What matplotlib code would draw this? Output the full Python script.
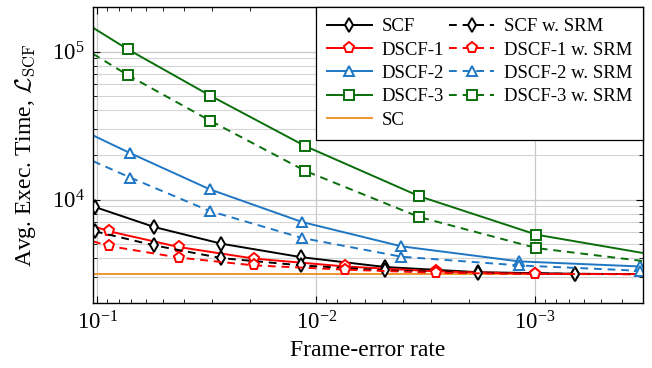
import matplotlib
matplotlib.use("Agg")
import matplotlib.pyplot as plt
from matplotlib.ticker import LogLocator, NullFormatter, FixedLocator

plt.rcParams['font.family'] = ['Liberation Serif', 'DejaVu Serif']
plt.rcParams['mathtext.fontset'] = 'cm'

# frame-error rate limits (axis reversed)
x_lim = (0.1047, 3.2e-4)
y_lim = (2.0e3, 2.0e5)

# SCF / SCF w. SRM
fer_scf = [0.1027, 0.0549, 0.0271, 0.0117, 0.00483, 0.00182, 0.000658, 3.2e-4]
scf = [8910, 6520, 5030, 4080, 3500, 3230, 3150, 3135]
scf_srm = [6100, 4900, 4020, 3590, 3320, 3190, 3145, 3130]

# DSCF-1
fer_d1 = [0.1047, 0.0883, 0.0422, 0.0192, 0.00736, 0.00283, 0.001, 3.2e-4]
dscf1 = [6620, 6100, 4770, 3990, 3530, 3270, 3150, 3135]
dscf1_srm = [5220, 4850, 4050, 3590, 3360, 3200, 3140, 3130]

# DSCF-2
fer_d2 = [0.1047, 0.0708, 0.0307, 0.0116, 0.00408, 0.00118, 0.00033]
dscf2 = [27140, 20590, 11740, 7050, 4830, 3820, 3530]
dscf2_srm = [18180, 14090, 8370, 5500, 4110, 3590, 3300]

# DSCF-3
fer_d3 = [0.1047, 0.0728, 0.0305, 0.01122, 0.00338, 0.000985, 3.2e-4]
dscf3 = [144800, 103800, 50360, 22970, 10530, 5790, 4350]
dscf3_srm = [96470, 69530, 34090, 15620, 7620, 4700, 3840]

# SC reference
sc_value = 3125

green = '#0a6e0a'
blue = '#1f77c4'
orange = '#f0952e'
dash = (0, (4, 3))

fig = plt.figure(figsize=(6.52, 3.68), dpi=100)
ax = fig.add_axes([93 / 652, 1 - 303 / 368, 550.3 / 652, 296 / 368])

mk = dict(markerfacecolor='white', markeredgewidth=1.4, linewidth=1.4)

h_scf, = ax.plot(fer_scf, scf, color='black', marker='d', markersize=7,
                 markevery=list(range(7)), label='SCF', **mk)
h_d1, = ax.plot(fer_d1, dscf1, color='red', marker='p', markersize=8,
                markevery=list(range(1, 7)), label='DSCF-1', **mk)
h_d2, = ax.plot(fer_d2, dscf2, color=blue, marker='^', markersize=7,
                markevery=list(range(1, 7)), label='DSCF-2', **mk)
h_d3, = ax.plot(fer_d3, dscf3, color=green, marker='s', markersize=7.5,
                markevery=list(range(1, 6)), label='DSCF-3', **mk)
h_sc = ax.axhline(sc_value, color=orange, linewidth=1.4, label='SC', zorder=1.5)

h_scf_s, = ax.plot(fer_scf, scf_srm, color='black', marker='d', markersize=7,
                   markevery=list(range(7)), linestyle=dash, label='SCF w. SRM', **mk)
h_d1_s, = ax.plot(fer_d1, dscf1_srm, color='red', marker='p', markersize=8,
                  markevery=list(range(1, 7)), linestyle=dash, label='DSCF-1 w. SRM', **mk)
h_d2_s, = ax.plot(fer_d2, dscf2_srm, color=blue, marker='^', markersize=7,
                  markevery=list(range(1, 7)), linestyle=dash, label='DSCF-2 w. SRM', **mk)
h_d3_s, = ax.plot(fer_d3, dscf3_srm, color=green, marker='s', markersize=7.5,
                  markevery=list(range(1, 6)), linestyle=dash, label='DSCF-3 w. SRM', **mk)

ax.set_xscale('log')
ax.set_yscale('log')
ax.set_xlim(*x_lim)
ax.set_ylim(*y_lim)

ax.xaxis.set_major_locator(FixedLocator([1e-1, 1e-2, 1e-3]))
ax.xaxis.set_minor_locator(LogLocator(base=10, subs=range(2, 10), numticks=20))
ax.xaxis.set_minor_formatter(NullFormatter())
ax.yaxis.set_major_locator(FixedLocator([1e3, 1e4, 1e5]))
ax.yaxis.set_minor_locator(LogLocator(base=10, subs=range(2, 10), numticks=20))
ax.yaxis.set_minor_formatter(NullFormatter())

ax.grid(True, which='major', axis='both', color='#c8c8c8', linewidth=0.9)
ax.grid(True, which='minor', axis='y', color='#d4d4d4', linewidth=0.8)
ax.set_axisbelow(True)

ax.tick_params(which='both', direction='in', top=True, right=True, labelsize=16.5)
ax.tick_params(which='major', length=5, pad=6)
ax.tick_params(which='minor', length=3)
for s in ax.spines.values():
    s.set_linewidth(1.0)

ax.set_xlabel('Frame-error rate', fontsize=17, labelpad=4)
ax.set_ylabel(r'Avg. Exec. Time, $\mathcal{L}_{\mathrm{SCF}}$', fontsize=17, labelpad=10)

handles = [h_scf, h_d1, h_d2, h_d3, h_sc, h_scf_s, h_d1_s, h_d2_s, h_d3_s]
leg = ax.legend(handles=handles, loc='upper right', ncol=2, fontsize=13.5,
                borderaxespad=0, fancybox=False, framealpha=1, edgecolor='black',
                handlelength=2.4, columnspacing=0.3, handletextpad=0.5,
                labelspacing=0.33, borderpad=0.6)
leg.get_frame().set_linewidth(0.9)

fig.savefig('out.png', dpi=100)
